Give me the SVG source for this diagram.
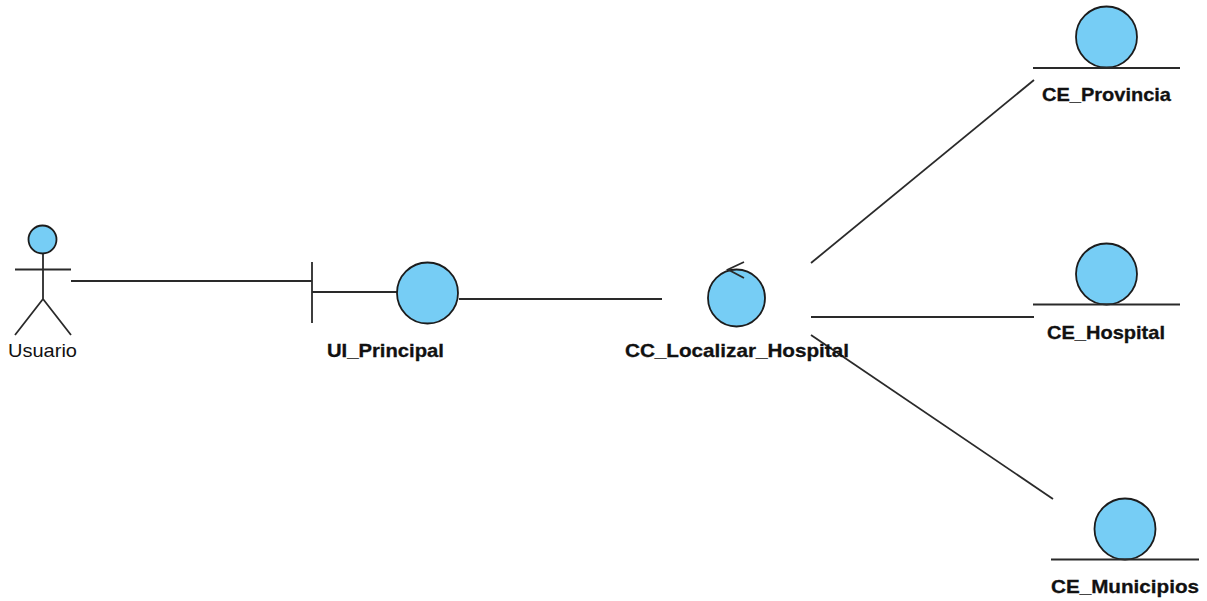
<svg xmlns="http://www.w3.org/2000/svg" width="1207" height="601" viewBox="0 0 1207 601">
<style>
.l{stroke:#2a2a2a;stroke-width:1.8;fill:none}
.c{fill:#76cdf5;stroke:#1c1c1c;stroke-width:1.8}
.t{font-family:"Liberation Sans",Arial,sans-serif;font-size:19px;fill:#111}
.b{font-weight:bold;stroke:#111;stroke-width:.3}
</style>
<rect width="1207" height="601" fill="#fff"/>
<g id="connectors">
<path class="l" d="M71 281H312"/>
<path class="l" d="M459 299H662"/>
<path class="l" d="M811 263L1034 80"/>
<path class="l" d="M811 317H1034"/>
<path class="l" d="M811 335L1053 499"/>
</g>
<g id="Usuario">
<circle class="c" cx="42.500" cy="239.500" r="14"/>
<path class="l" d="M43 254V299M15 269.500H71M43 299L15 335M43 299L71 335"/>
<text class="t" x="8" y="356.500" textLength="69" lengthAdjust="spacingAndGlyphs">Usuario</text>
</g>
<g id="UI_Principal">
<path class="l" d="M312 262V323M312 292H397"/>
<circle class="c" cx="427.500" cy="293" r="30.500"/>
<text class="t b" x="327" y="356.500" textLength="117" lengthAdjust="spacingAndGlyphs">UI_Principal</text>
</g>
<g id="CC_Localizar_Hospital">
<circle class="c" cx="736.500" cy="298" r="28.500"/>
<path class="l" d="M744 262L728 269.500L744 278"/>
<text class="t b" x="625" y="356.500" textLength="224" lengthAdjust="spacingAndGlyphs">CC_Localizar_Hospital</text>
</g>
<g id="CE_Provincia">
<circle class="c" cx="1106.500" cy="37" r="30.500"/>
<path class="l" d="M1033 68H1180"/>
<text class="t b" x="1042" y="101" textLength="129" lengthAdjust="spacingAndGlyphs">CE_Provincia</text>
</g>
<g id="CE_Hospital">
<circle class="c" cx="1106.500" cy="274" r="30.500"/>
<path class="l" d="M1033 304.500H1180"/>
<text class="t b" x="1047" y="338.500" textLength="118" lengthAdjust="spacingAndGlyphs">CE_Hospital</text>
</g>
<g id="CE_Municipios">
<circle class="c" cx="1125" cy="529" r="30.500"/>
<path class="l" d="M1051 559.500H1199"/>
<text class="t b" x="1051" y="592.500" textLength="148" lengthAdjust="spacingAndGlyphs">CE_Municipios</text>
</g>
</svg>
